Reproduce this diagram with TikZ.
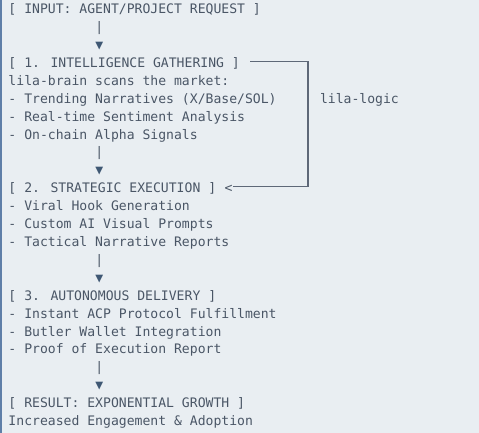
\documentclass[tikz,border=0pt]{standalone}
\usepackage{fontspec}
\newfontfamily\mono{DejaVu Sans Mono}
\definecolor{bgc}{HTML}{E9EEF2}
\definecolor{textc}{HTML}{4A5666}
\definecolor{barc}{HTML}{5F7FA8}
\definecolor{linec}{HTML}{5E6878}
\definecolor{tric}{HTML}{3F5874}
\tikzset{
  txt/.style={anchor=base west, inner sep=0pt, outer sep=0pt, font=\mono\fontsize{13.1}{15}\selectfont, text=textc},
  tri/.style={txt, text=tric},
  conn/.style={draw=linec, line width=1.2pt},
}
\begin{document}
\begin{tikzpicture}[x=1pt,y=-1pt]
\useasboundingbox (0,0) rectangle (479,433);
\fill[bgc] (0,0) rectangle (479,433);
\fill[barc] (0,0) rectangle (2,433);
\def\xo{8.5}
\node[txt] (input) at (\xo,13.8) {[ INPUT: AGENT/PROJECT REQUEST ]};
\node[txt] (v1) at (\xo,31.7) {\ \ \ \ \ \ \ \ \ \ \ |};
\node[tri] (a1) at (\xo,49.6) {\ \ \ \ \ \ \ \ \ \ \ ▼};
\node[txt] (h1) at (\xo,67.5) {[ 1. INTELLIGENCE GATHERING ]};
\node[txt] (l4) at (\xo,85.4) {lila-brain scans the market:};
\node[txt] (l5) at (\xo,103.3) {- Trending Narratives (X/Base/SOL)};
\node[txt] (l6) at (\xo,121.2) {- Real-time Sentiment Analysis};
\node[txt] (l7) at (\xo,139.1) {- On-chain Alpha Signals};
\node[txt] (v2) at (\xo,157.0) {\ \ \ \ \ \ \ \ \ \ \ |};
\node[tri] (a2) at (\xo,174.9) {\ \ \ \ \ \ \ \ \ \ \ ▼};
\node[txt] (h2) at (\xo,192.8) {[ 2. STRATEGIC EXECUTION ]};
\node[txt] (lt) at (224.5,192.8) {<};
\node[txt] (l11) at (\xo,210.7) {- Viral Hook Generation};
\node[txt] (l12) at (\xo,228.6) {- Custom AI Visual Prompts};
\node[txt] (l13) at (\xo,246.5) {- Tactical Narrative Reports};
\node[txt] (v3) at (\xo,264.4) {\ \ \ \ \ \ \ \ \ \ \ |};
\node[tri] (a3) at (\xo,282.3) {\ \ \ \ \ \ \ \ \ \ \ ▼};
\node[txt] (h3) at (\xo,300.2) {[ 3. AUTONOMOUS DELIVERY ]};
\node[txt] (l17) at (\xo,318.1) {- Instant ACP Protocol Fulfillment};
\node[txt] (l18) at (\xo,336.0) {- Butler Wallet Integration};
\node[txt] (l19) at (\xo,353.9) {- Proof of Execution Report};
\node[txt] (v4) at (\xo,371.8) {\ \ \ \ \ \ \ \ \ \ \ |};
\node[tri] (a4) at (\xo,389.7) {\ \ \ \ \ \ \ \ \ \ \ ▼};
\node[txt] (h4) at (\xo,407.6) {[ RESULT: EXPONENTIAL GROWTH ]};
\node[txt] (l23) at (\xo,425.5) {Increased Engagement \& Adoption};
\node[txt] (logic) at (320,103.3) {lila-logic};
\coordinate (c1) at ([xshift=10.5pt,yshift=6pt]h1.base east);
\coordinate (c3) at (308,186.7);
\draw[conn] (c1) -| (c3) -- ([xshift=0.5pt]lt.east |- c3);
\end{tikzpicture}
\end{document}
